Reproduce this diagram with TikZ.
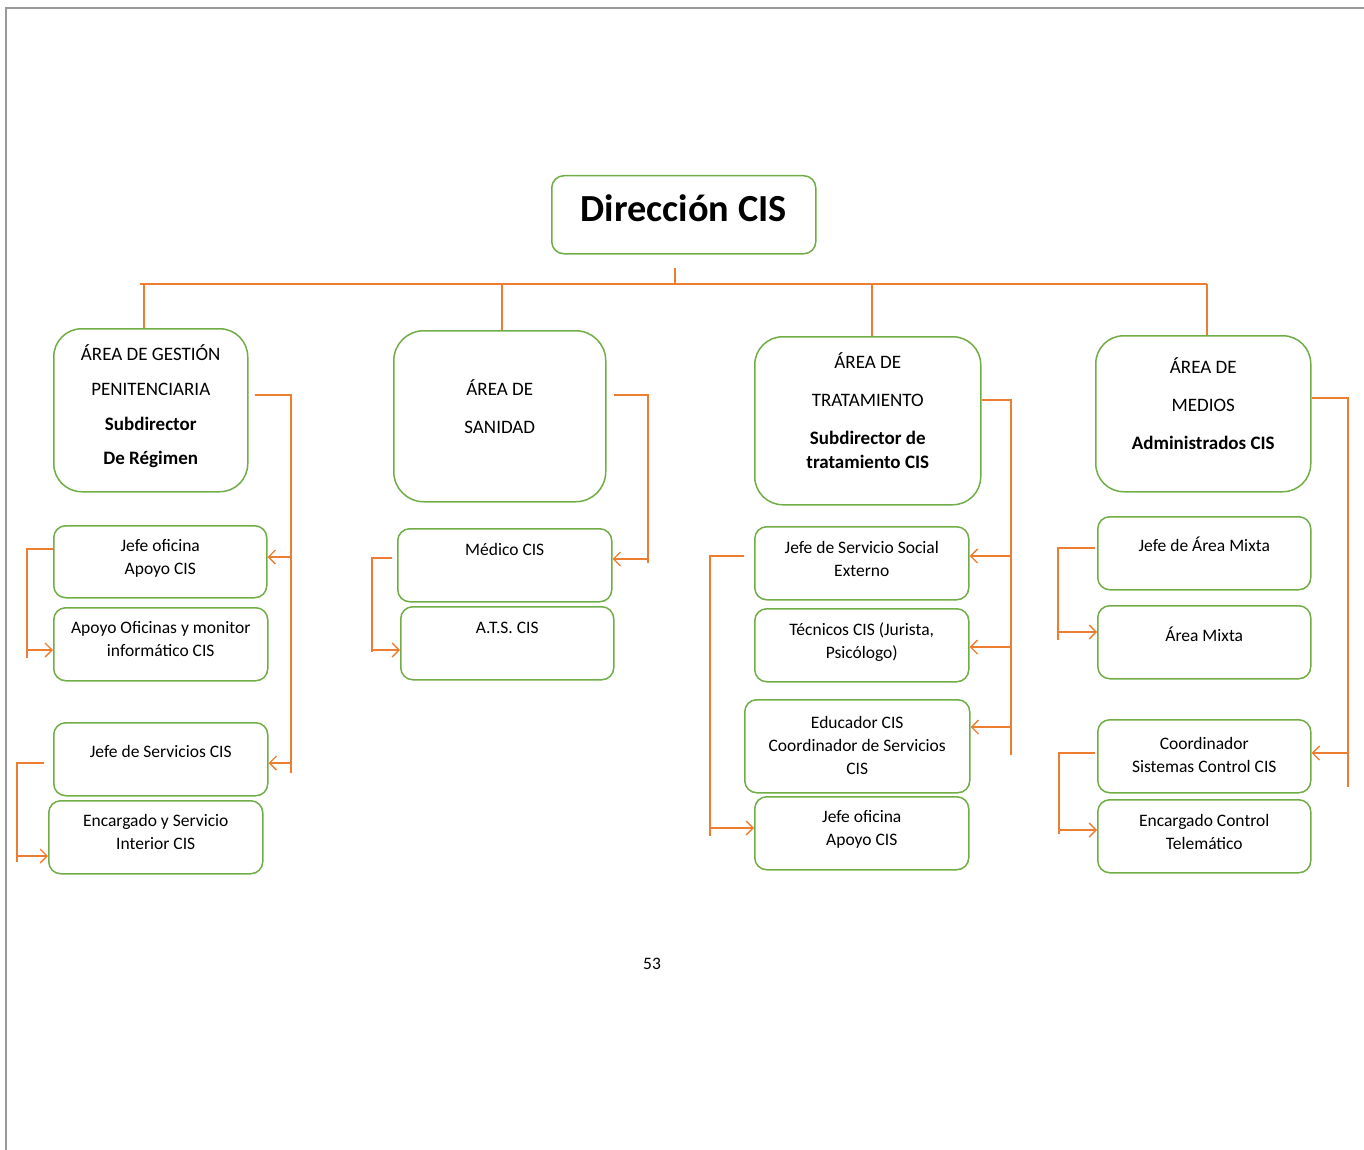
\documentclass[tikz,border=0pt]{standalone}
\usepackage{fontspec}
\setmainfont{Carlito}
\usetikzlibrary{arrows.meta,calc}
\definecolor{boxgreen}{HTML}{70AD47}
\definecolor{lineorange}{HTML}{ED7D31}
\definecolor{pagegray}{HTML}{9A9A9A}
\newcommand\bt[4]{\parbox[t][#2pt][t]{#1pt}{\centering\vspace*{#3pt}\strut#4}}
\begin{document}
\begin{tikzpicture}[x=1pt,y=-1pt,
  every node/.style={font=\fontsize{17.5}{23}\selectfont},
  sbox/.style={draw=boxgreen, line width=1.5pt, rounded corners=12pt, inner sep=0pt, anchor=north west},
  headbox/.style={sbox, rounded corners=28pt, font=\fontsize{19}{23}\selectfont},
  orangeline/.style={draw=lineorange, line width=1.4pt},
  arrowline/.style={orangeline, -{Straight Barb[length=7pt,width=14pt]}}]
\useasboundingbox (0,0) rectangle (1364,1150);
\draw[pagegray, line width=1.5pt] (6,1150) -- (6,8) -- (1364,8);

% top
\node[sbox, font=\fontsize{38.3}{44}\selectfont\bfseries] (dir) at (551,175) {\bt{264}{78}{15.4}{Dirección CIS}};

% headers
\node[headbox] (gh) at (53,328) {\bt{194}{163}{16}{ÁREA DE GESTIÓN\\[12pt]PENITENCIARIA\\[12pt]\textbf{Subdirector}\\[11pt]\textbf{De Régimen}}};
\node[headbox, rounded corners=30pt] (sh) at (393,330) {\bt{212}{171}{49}{ÁREA DE\\[15pt]SANIDAD}};
\node[headbox] (th) at (754,336) {\bt{226}{168}{16}{ÁREA DE\\[15pt]TRATAMIENTO\\[15pt]\textbf{Subdirector de}\\[1pt]\textbf{tratamiento CIS}}};
\node[headbox] (mh) at (1095,335) {\bt{215}{156}{22}{ÁREA DE\\[15pt]MEDIOS\\[15pt]\textbf{Administrados CIS}}};

% Gestion column
\node[sbox] (g1) at (53,525) {\bt{213}{72}{9.4}{Jefe oficina\\Apoyo CIS}};
\node[sbox] (g2) at (53,607) {\bt{214}{73}{9.4}{Apoyo Oficinas y monitor\\informático CIS}};
\node[sbox] (g3) at (53,722) {\bt{214}{73}{18.4}{Jefe de Servicios CIS}};
\node[sbox] (g4) at (48,800) {\bt{214}{73}{9.4}{Encargado y Servicio\\Interior CIS}};

% Sanidad column
\node[sbox] (s1) at (397,528) {\bt{214}{73}{10.4}{Médico CIS}};
\node[sbox] (s2) at (400,606) {\bt{213}{73}{10.4}{A.T.S. CIS}};

% Tratamiento column
\node[sbox] (t1) at (754,526) {\bt{214}{73}{10.4}{Jefe de Servicio Social\\Externo}};
\node[sbox] (t2) at (754,608) {\bt{214}{73}{10.4}{Técnicos CIS (Jurista,\\Psicólogo)}};
\node[sbox] (t3) at (744,699) {\bt{225}{93}{12.4}{Educador CIS\\Coordinador de Servicios\\CIS}};
\node[sbox] (t4) at (754,796) {\bt{214}{73}{9.4}{Jefe oficina\\Apoyo CIS}};

% Medios column
\node[sbox] (m1) at (1097,516) {\bt{213}{73}{18.4}{Jefe de Área Mixta}};
\node[sbox] (m2) at (1097,605) {\bt{213}{73}{19.4}{Área Mixta}};
\node[sbox] (m3) at (1097,719) {\bt{213}{73}{13.4}{Coordinador\\Sistemas Control CIS}};
\node[sbox] (m4) at (1097,799) {\bt{213}{73}{10.4}{Encargado Control\\Telemático}};

% page number
\node[inner sep=0pt] (pg) at (652,964) {53};

% bus
\coordinate (busL) at (140,284);
\coordinate (busR) at (1207,284);
\draw[orangeline] (busL) -- (busR);
\draw[orangeline] ($(dir.south -| 675,0)+(0,13)$) -- (675,284);
\draw[orangeline] (144,284) -- (gh.north -| 144,0);
\draw[orangeline] (502,284) -- (sh.north -| 502,0);
\draw[orangeline] (872,284) -- (th.north -| 872,0);
\draw[orangeline] (busR) -- (mh.north -| 1207,0);

% Gestion connectors
\coordinate (gT) at (291,395);
\draw[orangeline] ($(gh.north east)+(6,67)$) -- (gT) -- (291,773);
\draw[arrowline] (gT |- 0,557) -- (g1.east |- 0,557);
\draw[arrowline] (gT |- 0,763) -- (g3.east |- 0,763);
\draw[orangeline] (g1.west |- 0,549) -- (27,549) -- (27,658);
\draw[arrowline] (27,650) -- (g2.west |- 0,650);
\draw[orangeline] ($(g3.west |- 0,763)+(-9,0)$) -- (17,763) -- (17,862);
\draw[arrowline] (17,856) -- (g4.west |- 0,856);

% Sanidad connectors
\draw[orangeline] ($(sh.north east)+(7,65)$) -- (648,395) -- (648,563);
\draw[arrowline] (648,559) -- (s1.east |- 0,559);
\draw[orangeline] ($(s1.west |- 0,558)+(-5,0)$) -- (372,558) -- (372,652);
\draw[arrowline] (372,650) -- (s2.west |- 0,650);

% Tratamiento connectors
\draw[orangeline] (th.north east |- 0,400) -- (1011,400) -- (1011,755);
\draw[arrowline] (1011,556) -- (t1.east |- 0,556);
\draw[arrowline] (1011,647) -- (t2.east |- 0,647);
\draw[arrowline] (1011,727) -- (t3.east |- 0,727);
\draw[orangeline] ($(t1.west |- 0,556)+(-10,0)$) -- (710,556) -- (710,836);
\draw[arrowline] (710,828) -- (t4.west |- 0,828);

% Medios connectors
\draw[orangeline] (mh.north east |- 0,398) -- (1348,398) -- (1348,787);
\draw[arrowline] (1348,753) -- (m3.east |- 0,753);
\draw[orangeline] ($(m1.west |- 0,548)+(-2,0)$) -- (1058,548) -- (1058,640);
\draw[arrowline] (1058,632) -- (m2.west |- 0,632);
\draw[orangeline] ($(m3.west |- 0,753)+(-2,0)$) -- (1059,753) -- (1059,834);
\draw[arrowline] (1059,830) -- (m4.west |- 0,830);
\end{tikzpicture}
\end{document}
